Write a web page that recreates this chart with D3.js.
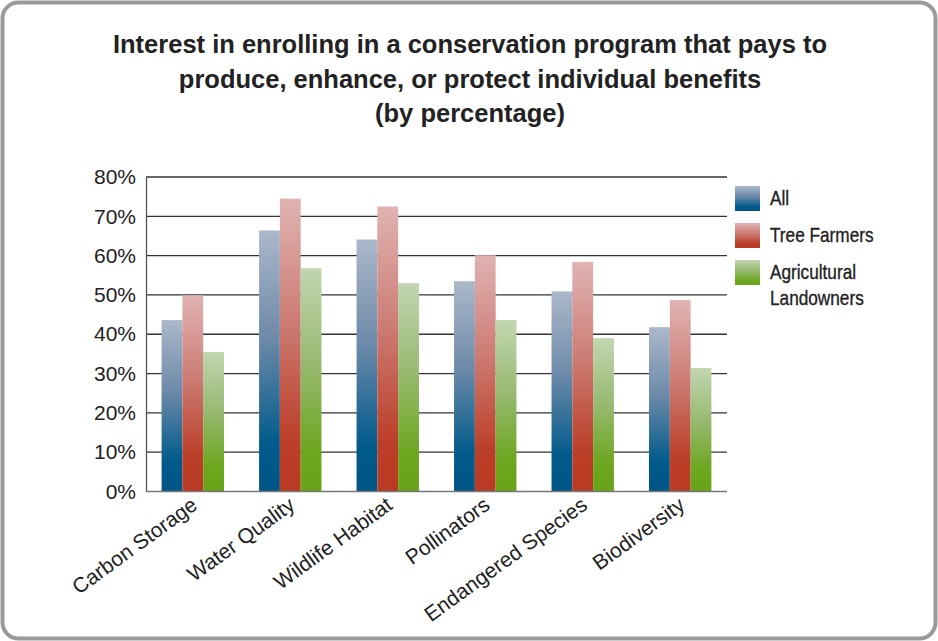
<!DOCTYPE html>
<html>
<head>
<meta charset="utf-8">
<script src="https://cdn.jsdelivr.net/npm/d3@7"></script>
<style>
  html, body { margin: 0; padding: 0; background: #fff; }
  svg { display: block; }
</style>
</head>
<body>
<svg id="chart" width="938" height="641"></svg>
<script>
// Benefit categories along the x axis
const categories = ["Carbon Storage", "Water Quality", "Wildlife Habitat", "Pollinators", "Endangered Species", "Biodiversity"];
// Respondent groups (legend order)
const seriesNames = ["All", "Tree Farmers", "Agricultural Landowners"];
// Percent interested, per group
const allValues = [43.6, 66.4, 64.1, 53.5, 50.9, 41.8];
const treeFarmerValues = [49.9, 74.5, 72.5, 60.1, 58.4, 48.7];
const agLandownerValues = [35.5, 56.8, 53.0, 43.6, 39.0, 31.4];
// y-axis ticks
const yTicks = [0, 10, 20, 30, 40, 50, 60, 70, 80];
const titleLines = [
  "Interest in enrolling in a conservation program that pays to",
  "produce, enhance, or protect individual benefits",
  "(by percentage)"
];

const seriesValues = [allValues, treeFarmerValues, agLandownerValues];
const gradients = [
  { id: "g-all", stops: ["#abb8ca", "#6c89a8", "#005b8b", "#005585"] },
  { id: "g-tf", stops: ["#e0b3b2", "#cc7c74", "#bc3f29", "#b93a22"] },
  { id: "g-ag", stops: ["#c1d6b0", "#98ba72", "#6da61f", "#68a318"] }
];

const svg = d3.select("#chart");
const W = 938, H = 641;

// rounded frame
svg.append("rect")
  .attr("x", 2.5).attr("y", 2.5)
  .attr("width", W - 5).attr("height", H - 5)
  .attr("rx", 16).attr("ry", 16)
  .attr("fill", "#fff")
  .attr("stroke", "#9a9a9a")
  .attr("stroke-width", 4);

// vertical gradients for bars and legend swatches
const defs = svg.append("defs");
gradients.forEach(g => {
  const lg = defs.append("linearGradient")
    .attr("id", g.id)
    .attr("x1", 0).attr("y1", 0).attr("x2", 0).attr("y2", 1);
  [[0, g.stops[0]], [0.42, g.stops[1]], [0.82, g.stops[2]], [1, g.stops[3]]].forEach(([o, c]) => {
    lg.append("stop").attr("offset", o).attr("stop-color", c);
  });
});

// title
const title = svg.append("text")
  .attr("x", 470)
  .attr("text-anchor", "middle")
  .attr("font-family", "Liberation Sans, Arial, sans-serif")
  .attr("font-weight", "bold")
  .attr("font-size", 25.5)
  .attr("fill", "#222");
titleLines.forEach((t, i) => {
  title.append("tspan").attr("x", 470).attr("y", 53 + i * 34.5).text(t);
});

const margin = { left: 146, right: 727, top: 177, bottom: 491.5 };

const x0 = d3.scaleBand()
  .domain(categories)
  .range([margin.left, margin.right])
  .paddingInner(0.36)
  .paddingOuter(0.16);

const x1 = d3.scaleBand()
  .domain(d3.range(seriesNames.length))
  .range([0, x0.bandwidth()])
  .padding(0);

const y = d3.scaleLinear()
  .domain([0, 80])
  .range([margin.bottom, margin.top]);

// gridlines
svg.append("g")
  .selectAll("line")
  .data(yTicks.filter(d => d > 0))
  .join("line")
  .attr("x1", margin.left).attr("x2", margin.right)
  .attr("y1", d => y(d)).attr("y2", d => y(d))
  .attr("stroke", "#333")
  .attr("stroke-width", 1.3);

// bars
const groups = svg.append("g")
  .selectAll("g")
  .data(categories)
  .join("g")
  .attr("transform", d => `translate(${x0(d)},0)`);

groups.selectAll("rect")
  .data((d, ci) => seriesValues.map((vals, si) => ({ si, v: vals[ci] })))
  .join("rect")
  .attr("x", d => x1(d.si))
  .attr("width", x1.bandwidth())
  .attr("y", d => y(d.v))
  .attr("height", d => y(0) - y(d.v))
  .attr("fill", d => `url(#${gradients[d.si].id})`);

// y axis
const yAxis = d3.axisLeft(y)
  .tickValues(yTicks)
  .tickSize(0)
  .tickPadding(10)
  .tickFormat(d => d + "%");
const yg = svg.append("g")
  .attr("transform", `translate(${margin.left},0)`)
  .call(yAxis);
yg.select(".domain").attr("stroke", "#555").attr("stroke-width", 1.3);
yg.selectAll("text")
  .attr("font-family", "Liberation Sans, Arial, sans-serif")
  .attr("font-size", 21)
  .attr("fill", "#222");

// x axis
const xAxis = d3.axisBottom(x0).tickSize(0).tickPadding(8);
const xg = svg.append("g")
  .attr("transform", `translate(0,${margin.bottom})`)
  .call(xAxis);
xg.select(".domain").attr("stroke", "#777").attr("stroke-width", 1.5)
  .attr("d", `M${margin.left},0H${margin.right}`);
xg.selectAll("text")
  .attr("font-family", "Liberation Sans, Arial, sans-serif")
  .attr("font-size", 21)
  .attr("fill", "#222")
  .attr("text-anchor", "end")
  .attr("dy", "0.35em")
  .attr("transform", "translate(-3,4) rotate(-36)");

// legend
const legend = svg.append("g")
  .attr("font-family", "Liberation Sans, Arial, sans-serif")
  .attr("font-size", 21)
  .attr("fill", "#222");
const legendRows = [
  { y: 186, lines: ["All"] },
  { y: 223, lines: ["Tree Farmers"] },
  { y: 260, lines: ["Agricultural", "Landowners"] }
];
legendRows.forEach((r, i) => {
  legend.append("rect")
    .attr("x", 735).attr("y", r.y)
    .attr("width", 25).attr("height", 25)
    .attr("fill", `url(#${gradients[i].id})`);
  r.lines.forEach((ln, j) => {
    legend.append("text")
      .attr("transform", `translate(770,${r.y + 19 + j * 26}) scale(0.82,1)`)
      .attr("stroke", "#222")
      .attr("stroke-width", 0.35)
      .text(ln);
  });
});
</script>
</body>
</html>
